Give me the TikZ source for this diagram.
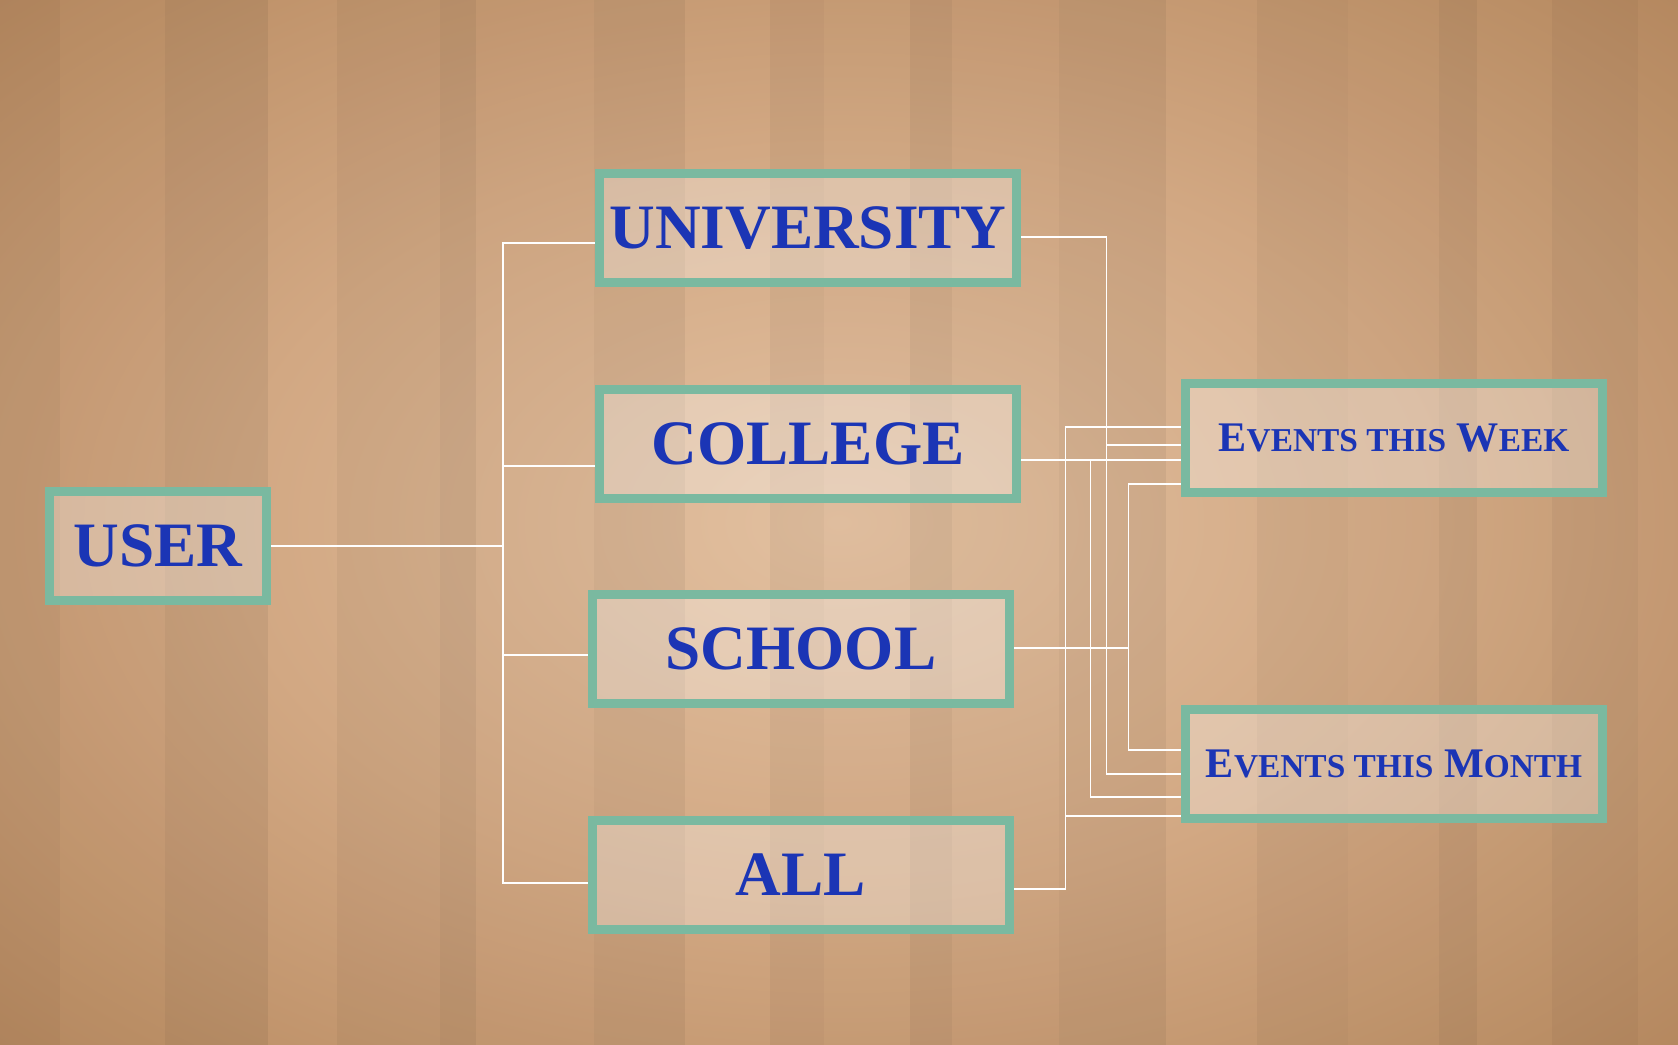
\documentclass[tikz,border=0pt]{standalone}
\usepackage{fontspec}
\setmainfont{Liberation Serif}
\usetikzlibrary{calc}
\definecolor{WoodLight}{HTML}{E2C0A0}
\definecolor{WoodMid}{HTML}{D2A883}
\definecolor{WoodWarm}{HTML}{B88A60}
\definecolor{WoodDark}{HTML}{7A5532}
\definecolor{Teal}{HTML}{7AB9A0}
\definecolor{Ink}{HTML}{1B35B5}
\pgfdeclareradialshading{woodglow}{\pgfpoint{0bp}{0bp}}{color(0bp)=(WoodLight);
  color(18bp)=(WoodMid); color(36bp)=(WoodWarm);
  color(52bp)=(WoodWarm!60!WoodDark); color(72bp)=(WoodDark)}
\newcommand{\capsc}[2]{{\fontsize{24}{28}\selectfont #1}{\fontsize{19}{28}\selectfont #2}}

\begin{document}
\begin{tikzpicture}[x=0.02cm,y=-0.02cm]
    \tikzset{
      box/.style={draw=Teal,line width=0.18cm,fill=white,fill opacity=0.3,
        text opacity=1,text=Ink,minimum width=8.36cm,minimum height=2.2cm,
        align=center,font=\bfseries},
      bigbox/.style={box,font=\fontsize{36}{40}\selectfont\bfseries},
      eventbox/.style={box,font=\fontsize{24}{28}\selectfont\bfseries},
      wire/.style={white,line width=0.6pt}
    }
    % wooden floor
    \shade[shading=woodglow] (0,0) rectangle (1678,1045);
    \foreach \x/\w/\o in {0/60/.05,60/105/.02,165/103/.06,268/69/0,337/103/.04,
        440/36/.07,476/118/.02,594/91/.05,685/85/0,770/54/.04,824/86/.01,
        910/42/.06,952/107/.02,1059/107/.05,1166/91/0,1257/91/.04,1348/91/.02,
        1439/38/.06,1477/75/.01,1552/86/.05,1638/40/.02}
      \fill[black,opacity=\o] (\x,0) rectangle ++(\w,1045);
    % boxes
    \node[bigbox,minimum width=4.34cm] (user) at (158,546) {USER};
    \node[bigbox] (univ) at (808,228) {UNIVERSITY};
    \node[bigbox] (coll) at (808,444) {COLLEGE};
    \node[bigbox] (schl) at (801,649) {SCHOOL};
    \node[bigbox] (all) at (801,875) {ALL};
    \node[eventbox] (week) at (1394,438) {\capsc{E}{VENTS THIS}\ \capsc{W}{EEK}};
    \node[eventbox] (month) at (1394,764) {\capsc{E}{VENTS THIS}\ \capsc{M}{ONTH}};
    % connectors
    \draw[wire] (user.east) -- ++(232,0) coordinate (trunk);
    \foreach \b/\dy in {univ/15,coll/22,schl/6,all/8}
      \draw[wire] (trunk) |- ($(\b.west)+(0,\dy)$);
    \foreach \a/\sy/\dx/\wy/\my in {univ/9/85/7/10,coll/16/69/22/33,
        schl/-1/114/46/-14,all/14/51/-11/52}
      \draw[wire] ($(\a.east)+(0,\sy)$) -- ++(\dx,0) coordinate (j)
        |- ($(week.west)+(0,\wy)$) (j) |- ($(month.west)+(0,\my)$);
\end{tikzpicture}
\end{document}
